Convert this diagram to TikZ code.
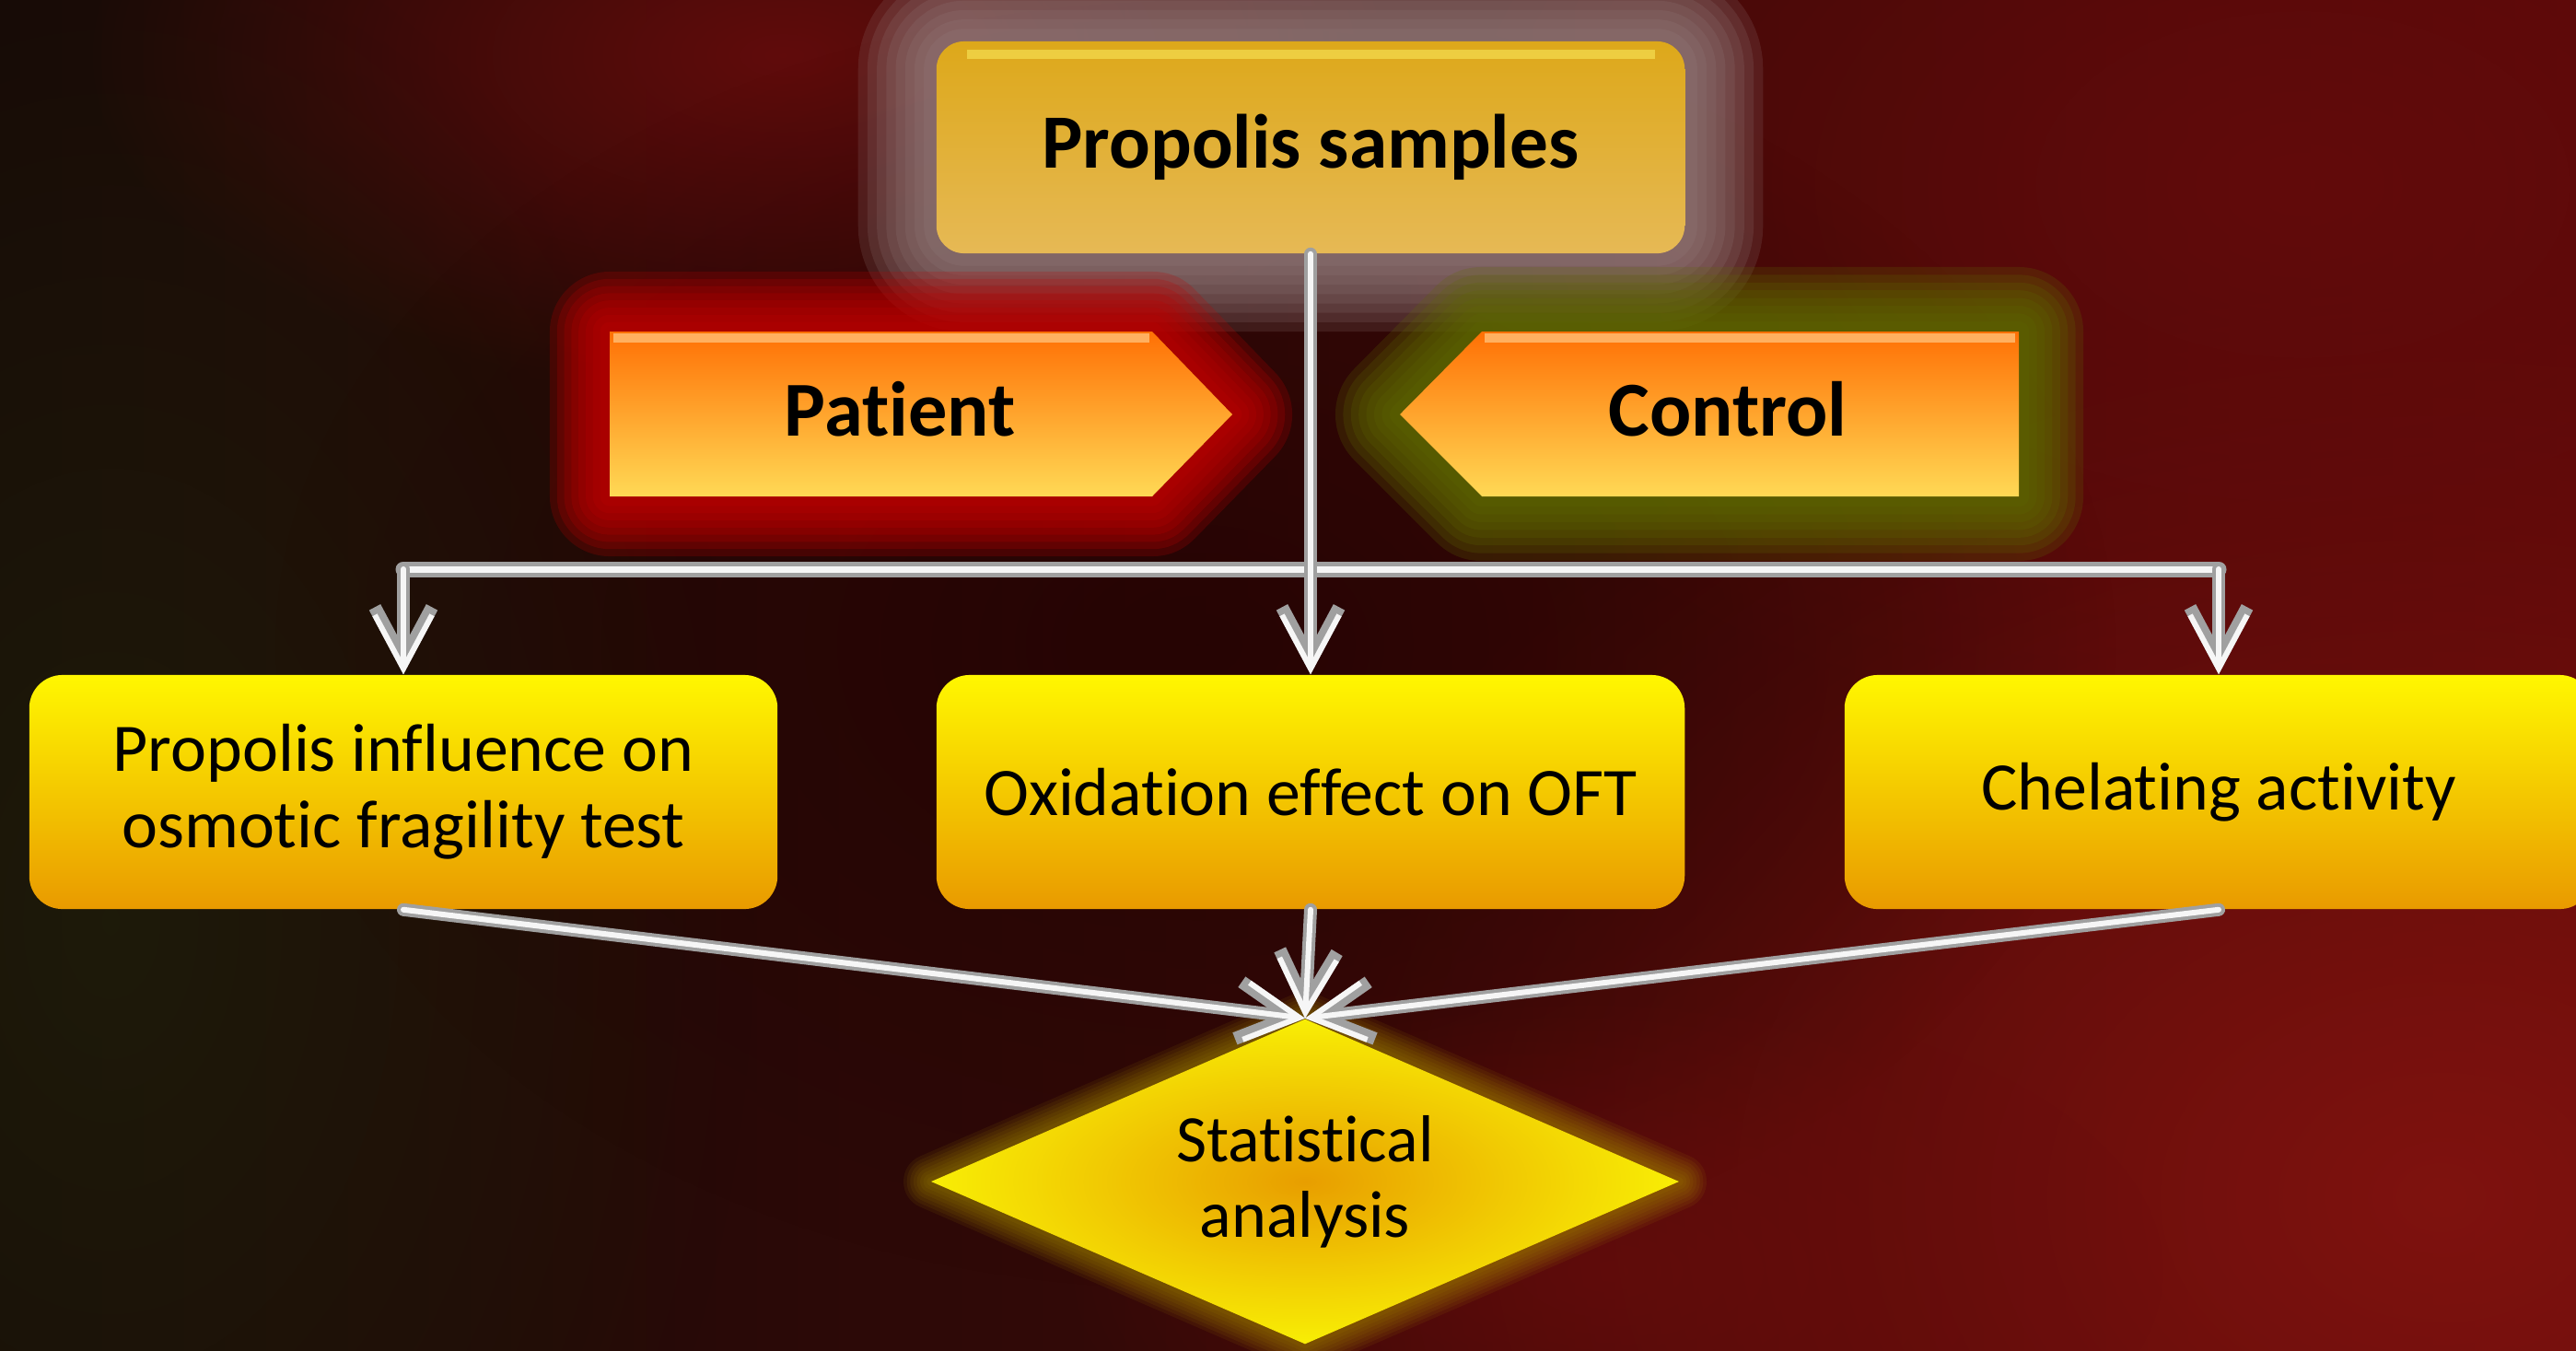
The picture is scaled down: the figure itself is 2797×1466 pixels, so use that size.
\documentclass[tikz,border=0pt]{standalone}
\usepackage{fontspec}
\setmainfont{Carlito}[Ligatures={NoCommon,NoRare,NoContextual}, Contextuals={NoAlternate}]
\usetikzlibrary{shapes.geometric,arrows.meta,fadings}
\definecolor{bgA}{HTML}{170A06}
\definecolor{bgB}{HTML}{2A0404}
\definecolor{bgC}{HTML}{560808}
\definecolor{blobred}{HTML}{6A0C0C}
\definecolor{blobred2}{HTML}{8A1510}
\definecolor{blobolive}{HTML}{1E1C0A}
\definecolor{blobdark}{HTML}{200202}
\definecolor{goldT}{HTML}{DDA81A}
\definecolor{goldB}{HTML}{E6B955}
\definecolor{goldHi}{HTML}{F2D84A}
\definecolor{yelT}{HTML}{FFF700}
\definecolor{yelB}{HTML}{E99A00}
\definecolor{orT}{HTML}{FF7005}
\definecolor{orB}{HTML}{FFD955}
\definecolor{orHi}{HTML}{FFB060}
\definecolor{dmIn}{HTML}{E89E00}
\definecolor{dmOut}{HTML}{F8EE05}
\definecolor{glowGrey}{HTML}{9A8585}
\definecolor{glowRed}{HTML}{C00000}
\definecolor{glowOlive}{HTML}{5E6A00}
\definecolor{glowYel}{HTML}{B09600}
\definecolor{silverD}{HTML}{A0A0A0}
\definecolor{silverL}{HTML}{F6F6F6}
\tikzfading[name=softblob, inner color=transparent!0, outer color=transparent!100]
\begin{document}
\begin{tikzpicture}[x=0.01cm, y=-0.01cm,
  glowlayers/.style n args={3}{
    preaction={draw=#1, line width=#2*1.00cm, draw opacity=#3, line join=round},
    preaction={draw=#1, line width=#2*0.88cm, draw opacity=#3, line join=round},
    preaction={draw=#1, line width=#2*0.76cm, draw opacity=#3, line join=round},
    preaction={draw=#1, line width=#2*0.64cm, draw opacity=#3, line join=round},
    preaction={draw=#1, line width=#2*0.52cm, draw opacity=#3, line join=round},
    preaction={draw=#1, line width=#2*0.40cm, draw opacity=#3, line join=round},
    preaction={draw=#1, line width=#2*0.28cm, draw opacity=#3, line join=round},
    preaction={draw=#1, line width=#2*0.16cm, draw opacity=#3, line join=round}},
  topbox/.style={rectangle, rounded corners=0.3cm, minimum width=8.12cm, minimum height=2.3cm,
    top color=goldT, bottom color=goldB, glowlayers={glowGrey}{1.7}{0.17}, text=black,
    font=\bfseries\fontsize{23.7}{28}\selectfont},
  armtext/.style={anchor=base, text=black, font=\bfseries\fontsize{24}{28}\selectfont},
  midbox/.style={rectangle, rounded corners=0.36cm, minimum width=8.12cm, minimum height=2.54cm,
    top color=yelT, bottom color=yelB, align=center, text=black,
    font=\fontsize{21}{23.5}\selectfont},
  statbox/.style={diamond, aspect=2.3, minimum width=8.12cm, minimum height=3.53cm, inner sep=0pt,
    inner color=dmIn, outer color=dmOut, glowlayers={glowYel}{0.6}{0.09}, align=center, text=black,
    font=\fontsize{20.5}{23.2}\selectfont},
  wireB/.style={draw=silverD, line width=0.14cm, line cap=round},
  wireT/.style={draw=silverL, line width=0.06cm, line cap=round},
  tipB/.style={-{Straight Barb[length=0.58cm,width=0.62cm]}}
]
% background
\useasboundingbox (0,0) rectangle (2797,1466);
\shade[left color=bgA, middle color=bgB, right color=bgC] (0,0) rectangle (2797,1466);
\begin{scope}
\clip (0,0) rectangle (2797,1466);
\fill[blobred, path fading=softblob, opacity=0.85] (850,60) ellipse [x radius=760, y radius=380];
\fill[blobred2, path fading=softblob, opacity=0.8] (2650,1300) ellipse [x radius=1300, y radius=1000];
\fill[blobred, path fading=softblob, opacity=0.7] (2500,200) ellipse [x radius=1000, y radius=650];
\fill[blobolive, path fading=softblob, opacity=0.9] (120,1000) ellipse [x radius=700, y radius=1100];
\fill[blobdark, path fading=softblob, opacity=0.7] (1300,700) ellipse [x radius=1000, y radius=700];
\fill[blobred, path fading=softblob, opacity=0.6] (1750,1380) ellipse [x radius=600, y radius=300];
\end{scope}

% top box
\node[topbox] (top) at (1423,160) {Propolis samples};
\fill[goldHi, opacity=0.8] (1050,54) rectangle (1797,64);

% patient / control arrows
\path[glowlayers={glowRed}{1.3}{0.22}, top color=orT, bottom color=orB] (662,360) -- (1251,360) -- (1338,450) -- (1251,539) -- (662,539) -- cycle;
\fill[orHi] (666,362) rectangle (1248,372);
\node[armtext] (patient) at (977,473) {Pat\kern0pt ient};

\path[glowlayers={glowOlive}{1.4}{0.22}, top color=orT, bottom color=orB] (1520,450) -- (1609,360) -- (2192,360) -- (2192,539) -- (1609,539) -- cycle;
\fill[orHi] (1612,362) rectangle (2188,372);
\node[armtext] (control) at (1876,473) {Control};

% middle row
\node[midbox] (oft) at (438,860) {Propolis inf\kern0pt luence on\\osmotic fragility test};
\node[midbox] (ox) at (1423,860) {Oxidat\kern0pt ion ef\kern0pt fect on OFT};
\node[midbox] (chel) at (2409,860) {Chelat\kern0pt ing activity};

% diamond
\node[statbox] (stat) at (1417,1283) {Stat\kern0pt ist\kern0pt ical\\analysis};

% connectors
\coordinate (hl) at (438,618);
\coordinate (hr) at (2409,618);
\draw[wireB, line width=0.17cm] (hl) -- (hr);
\draw[wireT, line width=0.07cm] (hl) -- (hr);
\foreach \s in {wireB, wireT}{
  \draw[\s, tipB] (top.south) -- (ox.north);
  \draw[\s, tipB] (hl) -- (oft.north);
  \draw[\s, tipB] (hr) -- (chel.north);
  \draw[\s, tipB] (oft.south) -- (stat.north);
  \draw[\s, tipB] (ox.south) -- (stat.north);
  \draw[\s, tipB] (chel.south) -- (stat.north);
}
\end{tikzpicture}
\end{document}
